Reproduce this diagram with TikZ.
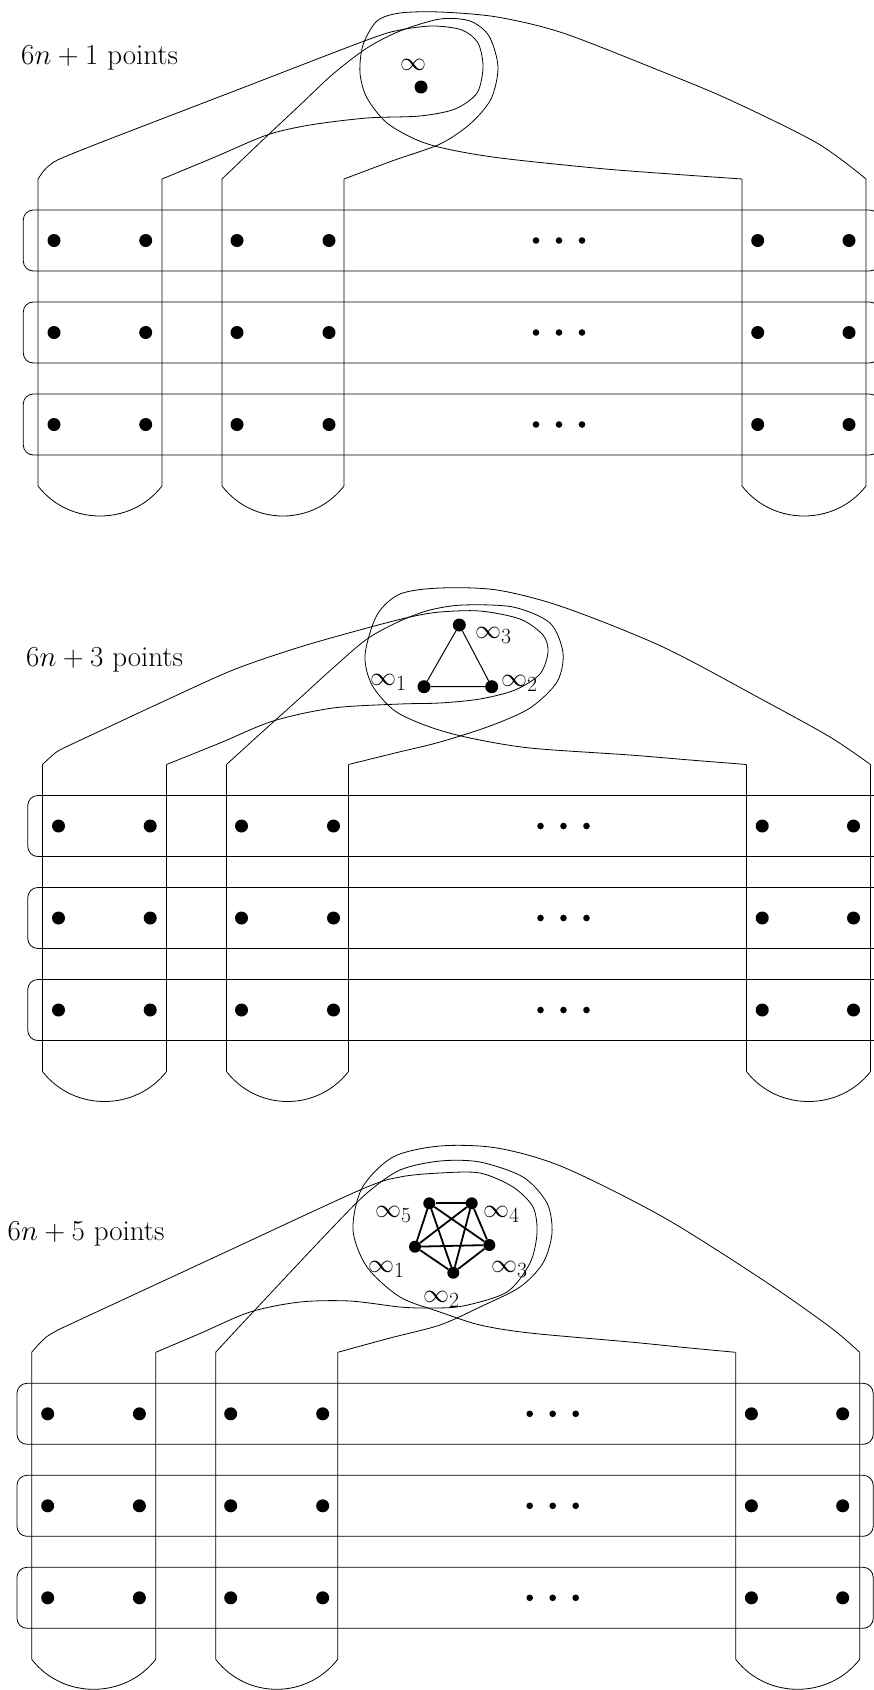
\documentclass[tikz,border=0pt]{standalone}
\newcommand{\panelgrid}[3]{%
\begin{scope}[shift={(#2,#3)}]
 \foreach \r/\yy in {1/210,2/302,3/394}{
   \draw[ln,rounded corners=10pt] (23.3,\yy) rectangle (879.5,\yy+61);
   \foreach \c/\xx in {1/54,2/145.7,3/237,4/329,5/757.7,6/849}{
     \node[dot] (#1d\r\c) at (\xx,\yy+30.5) {};}
   \foreach \c/\xx in {1/536,2/559,3/582}{
     \node[sdot] (#1e\r\c) at (\xx,\yy+30.5) {};}
 }
 \foreach \i/\xx in {1/38,2/162,3/222,4/344,5/742,6/866}{
   \coordinate (#1t\i) at (\xx,179);
   \coordinate (#1b\i) at (\xx,486);}
 \foreach \a/\b in {1/2,3/4,5/6}{
   \draw[ln] (#1t\a) -- (#1b\a) .. controls +(31,40) and +(-31,40) .. (#1b\b) -- (#1t\b);}
\end{scope}}
\begin{document}
\begin{tikzpicture}[x=1pt,y=-1pt,
  dot/.style={circle,fill=black,inner sep=0pt,minimum size=13pt},
  sdot/.style={circle,fill=black,inner sep=0pt,minimum size=6.6pt},
  ln/.style={line width=0.8pt},
  edge/.style={line width=1pt},
  kedge/.style={line width=1.8pt},
  lbl/.style={inner sep=0pt,anchor=base west,font=\Huge,scale=1.045},
  ttl/.style={inner sep=0pt,anchor=base west,font=\Huge,scale=1.165}]
\useasboundingbox (0,0) rectangle (874,1690);
\clip (0,0) rectangle (874,1690);

% ---------------- panel 1 ----------------
\panelgrid{p1}{0}{0}
\node[ttl] (title1) at (21,64.3) {$6n+1$ points};
\node[lbl] (inf) at (400,70) {$\infty$};
\node[dot] (p1i) at (421,87) {};
\draw[ln] plot[smooth,tension=0.5] coordinates {(p1t1) (44,170.5) (51,164) (62,158) (107,140) (237,90) (367,40) (400,30) (433,26) (462,30) (478,43) (483,67) (477,93) (455,109) (420,116) (367,118) (310,125) (267,135) (215,157) (p1t2)};
\draw[ln] plot[smooth,tension=0.5] coordinates {(p1t3) (245,157) (267,136) (300,105) (333,74) (367,48) (400,31) (440,19) (470,21) (489,36) (498,67) (491,99) (470,124) (440,144) (392,161) (p1t4)};
\draw[ln] plot[smooth,tension=0.5] coordinates {(p1t6) (817,143) (730,100) (663,72) (563,33) (497,17) (440,12) (400,13) (377,21) (363,45) (360,73) (367,98) (387,123) (417,140) (447,149) (500,158) (600,168.5) (671,174) (p1t5)};

% ---------------- panel 2 ----------------
\panelgrid{p2}{4.5}{585.5}
\node[ttl] (title2) at (26,666.7) {$6n+3$ points};
\node[dot] (p2i3) at (459.3,625) {};
\node[dot] (p2i1) at (424,686.7) {};
\node[dot] (p2i2) at (491.7,686.7) {};
\draw[edge] (p2i1) -- (p2i2) -- (p2i3) -- (p2i1);
\node[lbl] (p2l1) at (370,685.5) {$\infty_1$};
\node[lbl] (p2l2) at (501,686) {$\infty_2$};
\node[lbl] (p2l3) at (475,638) {$\infty_3$};
\draw[ln] plot[smooth,tension=0.5] coordinates {(p2t1) (50,757.5) (58,751) (70,745) (100,731) (160,703) (233,670) (300,647) (367,628) (410,617) (440,612) (480,611) (520,619) (543,635) (548,652) (540,674) (515,690) (480,699) (440,703) (400,704) (333,708) (273,721) (220,743) (p2t2)};
\draw[ln] plot[smooth,tension=0.5] coordinates {(p2t3) (260,734) (300,698) (333,668) (367,639) (400,621) (430,610) (463,605) (513,607) (550,623) (563,653) (557,682) (530,708) (490,726) (440,742) (395,753) (p2t4)};
\draw[ln] plot[smooth,tension=0.5] coordinates {(p2t6) (830,737) (763,700) (663,647) (563,607) (497,590) (440,588) (400,594) (377,615) (365,655) (372,685) (395,711) (430,727) (470,738) (530,748) (630,755) (690,760) (p2t5)};

% ---------------- panel 3 ----------------
\panelgrid{p3}{-6.3}{1173.3}
\node[ttl] (title3) at (7.5,1240) {$6n+5$ points};
\node[dot,minimum size=12pt] (p3i5) at (429.3,1203.3) {};
\node[dot,minimum size=12pt] (p3i4) at (471.7,1203.3) {};
\node[dot,minimum size=12pt] (p3i3) at (489.3,1245) {};
\node[dot,minimum size=12pt] (p3i2) at (453.3,1272.7) {};
\node[dot,minimum size=12pt] (p3i1) at (415,1246.7) {};
\foreach \a/\b in {1/2,1/3,1/4,1/5,2/3,2/4,2/5,3/4,3/5,4/5}{
  \draw[kedge] (p3i\a) -- (p3i\b);}
\node[lbl] (p3l5) at (375,1217) {$\infty_5$};
\node[lbl] (p3l4) at (483,1217) {$\infty_4$};
\node[lbl] (p3l3) at (491,1272) {$\infty_3$};
\node[lbl] (p3l1) at (368,1272) {$\infty_1$};
\node[lbl] (p3l2) at (423,1302) {$\infty_2$};
\draw[ln] plot[smooth,tension=0.5] coordinates {(p3t1) (39,1344) (47,1336.5) (58,1330) (70,1324.3) (215,1257) (360,1190) (400,1177) (440,1173) (480,1173) (513,1187) (533,1207) (537,1233) (530,1263) (507,1292) (463,1306) (430,1308) (400,1307) (350,1301) (300,1302) (250,1312) (200,1333.5) (p3t2)};
\draw[ln] plot[smooth,tension=0.5] coordinates {(p3t3) (233,1333.5) (283,1280) (333,1227) (367,1193) (400,1170) (440,1161) (480,1162) (523,1177) (547,1203) (552,1233) (543,1263) (520,1287) (480,1307) (440,1325) (390,1338) (p3t4)};
\draw[ln] plot[smooth,tension=0.5] coordinates {(p3t6) (830,1327) (763,1280) (663,1217) (563,1167) (497,1148) (440,1146) (393,1157) (362,1188) (353,1230) (367,1267) (400,1297) (440,1312) (480,1325) (530,1333) (630,1342) (690,1348) (p3t5)};
\end{tikzpicture}
\end{document}
